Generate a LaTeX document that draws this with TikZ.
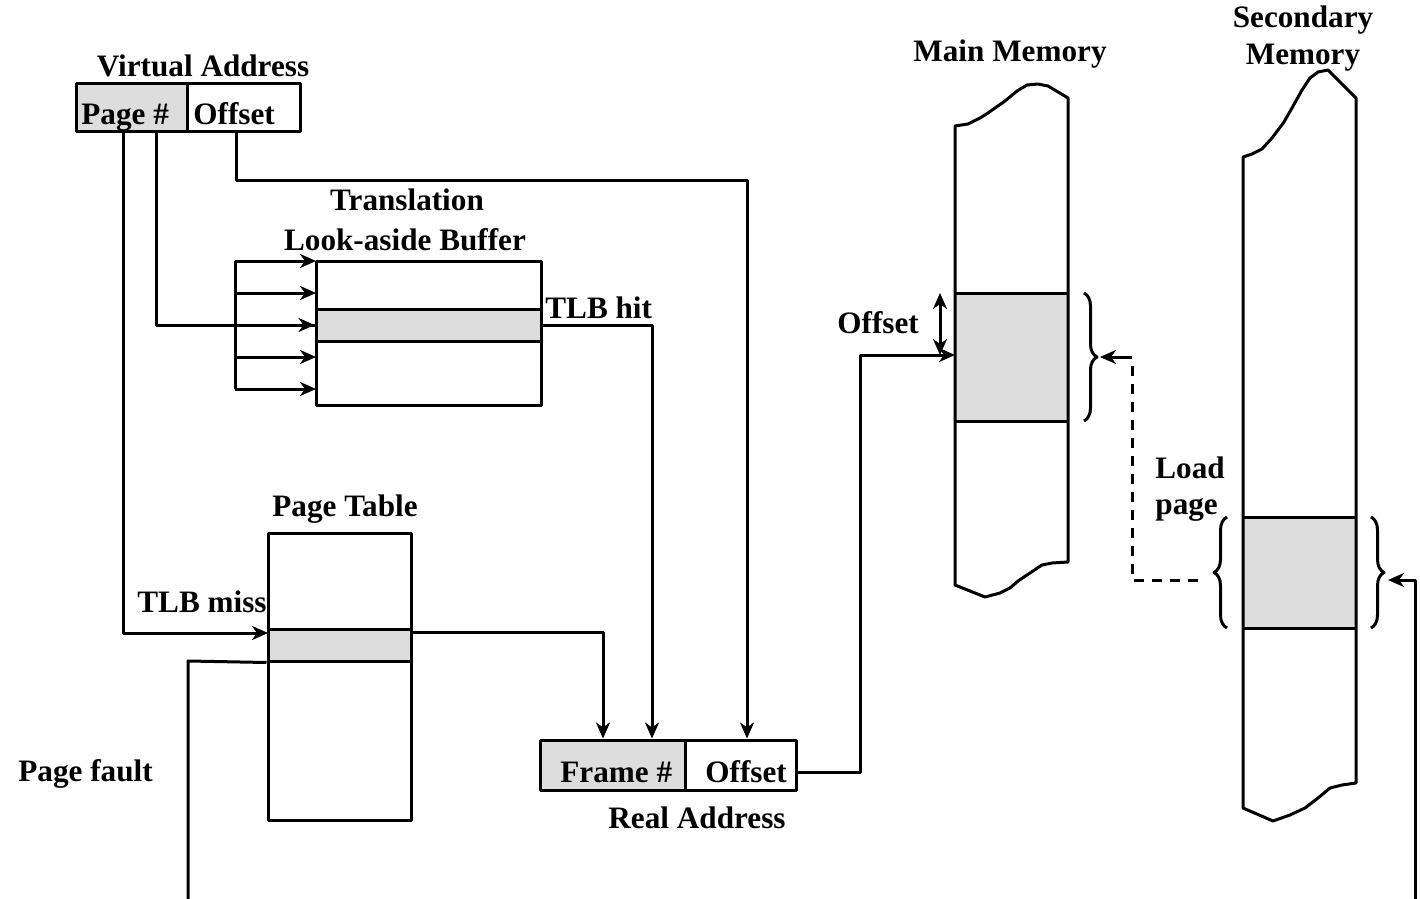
\documentclass[tikz,border=0pt]{standalone}
\usepackage{fontspec}
\setmainfont{Liberation Serif}
\usetikzlibrary{arrows.meta,fit,decorations.pathreplacing}
\definecolor{cellgray}{HTML}{DDDDDD}
\tikzset{
  line/.style={line width=1.5pt, line join=round},
  cell/.style={line, draw, inner sep=0pt},
  shaded/.style={cell, fill=cellgray},
  arr/.style={line, -{Stealth[length=8pt,width=7pt,inset=2.5pt]}},
  dblarr/.style={line, {Stealth[length=8pt,width=7pt,inset=2.5pt]}-{Stealth[length=8pt,width=7pt,inset=2.5pt]}},
  lbl/.style={font=\fontsize{15.6}{18}\selectfont\bfseries, inner sep=0pt, anchor=base},
  lblw/.style={lbl, anchor=base west},
  bracedeco/.style={line, decorate, decoration={brace, amplitude=6.5pt}},
  dashline/.style={line, dash pattern=on 5pt off 4pt}
}
\begin{document}
\begin{tikzpicture}[x=0.5pt, y=-0.5pt]
\useasboundingbox (0,0) rectangle (1420,899);

% ---- virtual address ----
\node[shaded, fit={(76,84) (187,132)}] (vpage) {};
\node[cell, fit={(187,84) (300,132)}] (voff) {};
\node[lbl] (vatitle) at (203,77) {Virtual Address};
\node[lblw] (vpagetxt) at (81,125) {Page \#};
\node[lblw] (vofftxt) at (193,125) {Offset};

% ---- translation look-aside buffer ----
\node[cell, fit={(316,261) (541,405)}] (tlb) {};
\node[shaded, fit={(316,309) (541,341)}] (tlbrow) {};
\node[lbl] (tlbt1) at (407,211) {Translation};
\node[lbl] (tlbt2) at (405,250) {Look-aside Buffer};
\node[lblw] (tlbhit) at (545,318) {TLB hit};

% ---- page table ----
\node[cell, fit={(268,533) (411,820)}] (pt) {};
\node[shaded, fit={(268,629) (411,661)}] (ptrow) {};
\node[lbl] (pttitle) at (345,516) {Page Table};
\node[lblw] (tlbmiss) at (137,612) {TLB miss};
\node[lblw] (pfault) at (18,781) {Page fault};

% ---- real address ----
\node[shaded, fit={(540,740) (685,790)}] (rframe) {};
\node[cell, fit={(685,740) (796,790)}] (roff) {};
\node[lblw] (rframetxt) at (560,782) {Frame \#};
\node[lblw] (rofftxt) at (705,782) {Offset};
\node[lbl] (ratitle) at (697,828) {Real Address};

% ---- main memory ----
\fill[cellgray] (955,293) rectangle (1068,421);
\draw[line] (955,126) -- (955,585) -- (985,597) -- (1000,593) -- (1010,588)
  -- (1018,581) -- (1030,573) -- (1042,565) -- (1052,563) -- (1068,562)
  -- (1068,98) -- (1058,92) -- (1048,86) -- (1038,84) -- (1027,85)
  -- (1017,91) -- (1005,101) -- (995,108) -- (988,113) -- (980,118)
  -- (968,124) -- cycle;
\draw[line] (955,293) -- (1068,293);
\draw[line] (955,421) -- (1068,421);
\node[lbl] (mmtitle) at (1010,62) {Main Memory};
\node[lblw] (mmoff) at (837,333) {Offset};
\coordinate (mmtop) at (940,293);
\coordinate (mmmid) at (940,355);
\draw[dblarr] (mmtop) -- (mmmid);
\draw[bracedeco] (1084,293) -- (1084,421);
\coordinate (mmbrace) at (1100,357);

% ---- secondary memory ----
\fill[cellgray] (1243,517) rectangle (1356,628);
\draw[line] (1243,157) -- (1243,808) -- (1273,821) -- (1290,815) -- (1305,808)
  -- (1318,798) -- (1330,788) -- (1342,785) -- (1356,783)
  -- (1356,98) -- (1342,84) -- (1328,70) -- (1318,72) -- (1310,78)
  -- (1302,90) -- (1292,108) -- (1284,122) -- (1272,138) -- (1262,149)
  -- (1252,154) -- cycle;
\draw[line] (1243,517) -- (1356,517);
\draw[line] (1243,628) -- (1356,628);
\node[lbl] (smt1) at (1303,28) {Secondary};
\node[lbl] (smt2) at (1303,65) {Memory};
\draw[bracedeco] (1227,628) -- (1227,517);
\draw[bracedeco] (1371,517) -- (1371,628);
\coordinate (smlbrace) at (1198,580);
\coordinate (smrbrace) at (1388,580);
\node[lblw] (load1) at (1155,478) {Load};
\node[lblw] (load2) at (1155,514) {page};

% ---- connectors ----
% page number into the TLB, broadcast to every entry
\coordinate (vpA) at (123,132);
\coordinate (vpB) at (156,132);
\draw[line] (vpB) |- (tlbrow.west);
\draw[arr] (236,325) -- (tlbrow.west);
\draw[line] (235,261) -- (235,389);
\foreach \yy in {261,293,357,389}
  \draw[arr] (235,\yy) -- (316,\yy);
% TLB miss into the page table
\draw[arr] (vpA) |- (268,633);
% offset straight through to the real address
\coordinate (voB) at (236,132);
\draw[arr] (voB) -- (236,181) -| (roff.north -| 747,0);
% TLB hit gives the frame number
\draw[arr] (tlbrow.east) -| (rframe.north -| 652,0);
% page table entry gives the frame number
\draw[arr] (411,632) -| (rframe.north -| 603,0);
% real address into main memory
\coordinate (raout) at (796,772);
\draw[arr] (raout) -- (860,772) |- (mmmid -| 955,0);
% page fault
\draw[line] (ptrow.south west) -- (188,661) -- (188,899);
\draw[arr] (1415,899) |- (smrbrace);
% load page
\draw[dashline] (smlbrace) -| (1132,365);
\draw[arr] (1132,357) -- (mmbrace);
\end{tikzpicture}
\end{document}
